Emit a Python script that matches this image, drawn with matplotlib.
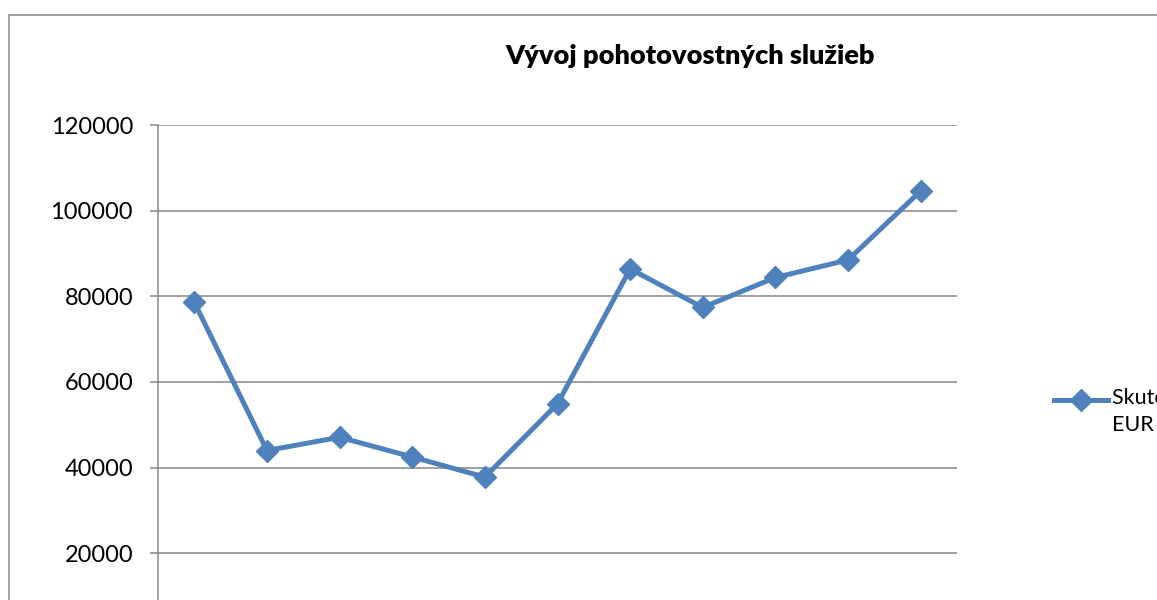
"""Vývoj pohotovostných služieb - line chart, saved to out.png."""

import matplotlib

matplotlib.use("Agg")
import matplotlib.pyplot as plt
from matplotlib.patches import Rectangle
from matplotlib.lines import Line2D

plt.rcParams["font.family"] = ["Lato", "DejaVu Sans"]

# data (11 periods, category labels not visible)
periods = list(range(1, 12))
values = [78600, 44000, 47100, 42500, 37800, 54900, 86400, 77400, 84400, 88500, 104600]
y_ticks = [20000, 40000, 60000, 80000, 100000, 120000]
title = "Vývoj pohotovostných služieb"
series_label = "Skutočnosť v\nEUR"

BLUE = "#4F81BD"
GRAY = "#868686"

W, H = 1157, 600
fig = plt.figure(figsize=(W / 100, H / 100), dpi=100)

# chart area border (only the top/left edges show, the rest is cropped)
fig.add_artist(Rectangle((9 / W, -0.2), 1.2, 1.2 - 15 / H,
                         transform=fig.transFigure, fill=False,
                         edgecolor=GRAY, linewidth=1.1))

# plot area: 120000 at y=125 px, 0 at y=639 px (below the image)
left, right = 158 / W, 957 / W
top, bottom = 1 - 125 / H, 1 - 639 / H
ax = fig.add_axes([left, bottom, right - left, top - bottom])

x = [p - 0.5 for p in periods]
ax.plot(x, values, color=BLUE, linewidth=3.6, marker="D", markersize=11,
        markeredgecolor=BLUE, zorder=3, clip_on=False)

ax.set_xlim(0, len(periods))
ax.set_ylim(0, 120000)
ax.set_yticks(y_ticks)
ax.set_yticklabels([str(v) for v in y_ticks])
ax.set_xticks([])
ax.grid(axis="y", color=GRAY, linewidth=1.1)
ax.set_axisbelow(True)
for side in ("top", "right", "bottom"):
    ax.spines[side].set_visible(False)
ax.spines["left"].set_color(GRAY)
ax.spines["left"].set_linewidth(1.1)
ax.tick_params(axis="y", length=6, width=1.1, color=GRAY, pad=12,
               labelsize=17, labelcolor="black")

fig.text(690 / W, 1 - 56 / H, title, ha="center", va="center",
         fontsize=19.5, fontweight="heavy")

# legend drawn by hand so it runs off the right edge like the original
ly = 1 - 400 / H
fig.add_artist(Line2D([1054 / W, 1108 / W], [ly, ly], color=BLUE,
                      linewidth=3.6, transform=fig.transFigure))
fig.add_artist(Line2D([1081 / W], [ly], color=BLUE, marker="D", markersize=11,
                      transform=fig.transFigure))
fig.text(1112 / W, ly + 12 / H, series_label, ha="left", va="top",
         fontsize=15.5, linespacing=1.45)

fig.savefig("out.png", dpi=100)
